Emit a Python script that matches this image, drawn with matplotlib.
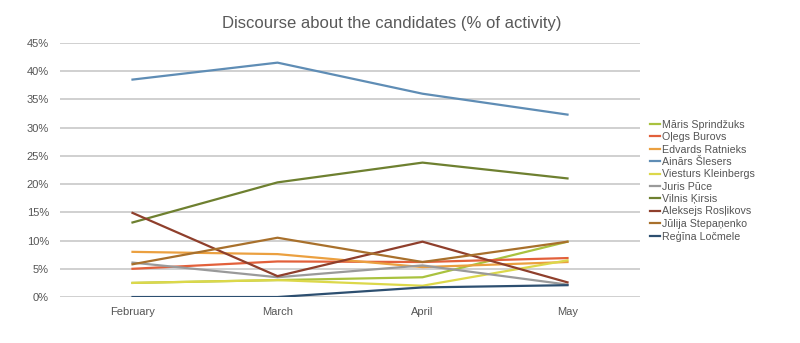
import matplotlib
matplotlib.use("Agg")
import matplotlib.pyplot as plt
from matplotlib.ticker import FuncFormatter

plt.rcParams['font.family'] = ['Liberation Sans Narrow', 'Liberation Sans', 'DejaVu Sans']

months = ["February", "March", "April", "May"]
names = ["Māris Sprindžuks", "Oļegs Burovs", "Edvards Ratnieks", "Ainārs Šlesers",
         "Viesturs Kleinbergs", "Juris Pūce", "Vilnis Ķirsis", "Aleksejs Rosļikovs",
         "Jūlija Stepaņenko", "Reģīna Ločmele"]
sprindzuks = [2.5, 3.0, 3.5, 9.8]
burovs = [5.0, 6.3, 6.2, 6.9]
ratnieks = [8.0, 7.6, 5.3, 6.2]
slesers = [38.5, 41.5, 36.0, 32.3]
kleinbergs = [2.5, 3.0, 2.0, 6.5]
puce = [6.1, 3.5, 5.6, 2.2]
kirsis = [13.2, 20.3, 23.8, 21.0]
roslikovs = [14.9, 3.7, 9.8, 2.6]
stepanenko = [5.8, 10.5, 6.2, 9.8]
locmele = [0.0, 0.0, 1.7, 2.1]
series = [sprindzuks, burovs, ratnieks, slesers, kleinbergs, puce, kirsis,
          roslikovs, stepanenko, locmele]
colors = ["#a9c23f", "#e2603b", "#eba040", "#5f8db5", "#dcd84a", "#9a9a9a",
          "#6e8030", "#8f3f2c", "#a8702c", "#2d4f70"]

fig = plt.figure(figsize=(8, 3.43), dpi=100)
ax = fig.add_axes([0.075, 0.134, 0.725, 0.741])

x = range(len(months))
for name, vals, c in zip(names, series, colors):
    ax.plot(x, [v / 100 for v in vals], color=c, lw=1.6, label=name)

ax.set_xlim(-0.5, 3.5)
ax.set_ylim(0, 0.45)
ax.set_yticks([i * 0.05 for i in range(10)])
ax.yaxis.set_major_formatter(FuncFormatter(lambda v, p: f"{round(v * 100)}%"))
ax.set_xticks(list(x))
ax.set_xticklabels(months)
ax.grid(axis='y', color='#c8c8c8', lw=1.2)
ax.set_axisbelow(True)
for s in ax.spines.values():
    s.set_visible(False)
ax.tick_params(length=0, labelsize=8, colors='#555555', pad=7)
ax.tick_params(axis='y', pad=8)

fig.text(0.49, 0.918, "Discourse about the candidates (% of activity)", ha='center',
         fontsize=12, color='#595959', family=['Liberation Sans Narrow', 'Liberation Sans'])

ax.legend(loc='upper left', bbox_to_anchor=(1.0, 0.735), frameon=False, fontsize=7.7,
          handlelength=1.0, handletextpad=0.2, labelspacing=0.22, borderaxespad=0.5,
          labelcolor='#555555')

fig.savefig("out.png", dpi=100)
